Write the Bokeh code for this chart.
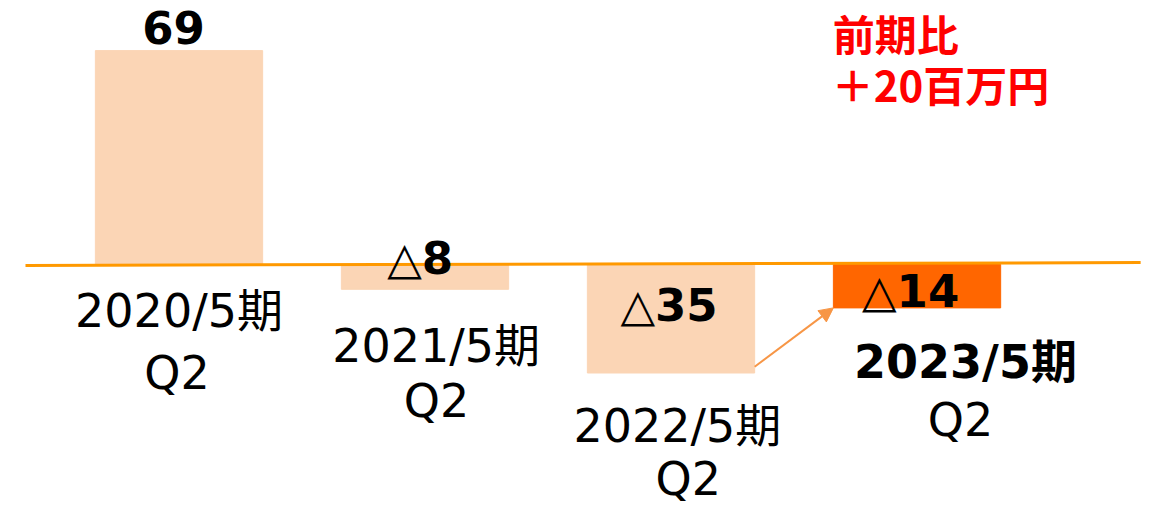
from bokeh.plotting import figure
from bokeh.models import Range1d, Arrow, NormalHead, ColumnDataSource
from bokeh.core.properties import value
from bokeh.embed import file_html
from bokeh.resources import INLINE

# ---- data ----
periods = ["2020/5期", "2021/5期", "2022/5期", "2023/5期"]
quarter = ["Q2", "Q2", "Q2", "Q2"]
values = [69, -8, -35, -14]
value_labels = ["69", "△8", "△35", "△14"]
note_lines = ["前期比", "＋20百万円"]

# ---- layout ----
W, H = 1149, 509
xs = list(range(len(values)))
bar_w = 0.68
bar_colors = ["#FBD5B5", "#FBD5B5", "#FBD5B5", "#FF6600"]
FONT = "'DejaVu Sans', 'Noto Sans CJK JP', sans-serif"
CJK = "'Noto Sans CJK JP', sans-serif"

p = figure(width=W, height=H, output_backend="svg", toolbar_location=None,
           x_range=Range1d(-0.7256, 3.945), y_range=Range1d(-79.03, 85.16),
           min_border=0, outline_line_color=None)
p.axis.visible = False
p.grid.visible = False
p.background_fill_color = "white"

src = ColumnDataSource(dict(x=xs, top=values, color=bar_colors))
p.vbar(x="x", top="top", bottom=0, width=bar_w, color="color", source=src)

# zero line (slightly tilted as in the original)
p.segment(x0=[-0.624], y0=[-0.31], x1=[3.909], y1=[0.62], line_color="#FF9900", line_width=3)

# arrow from 2022 bar to 2023 bar
p.add_layout(Arrow(end=NormalHead(size=14, fill_color="#F79646", line_color="#F79646"),
                   x_start=xs[2] + bar_w / 2, y_start=values[2] + 2,
                   x_end=xs[3] - bar_w / 2, y_end=values[3],
                   line_color="#F79646", line_width=2))

# value labels
val_pos = [(-0.022, 76.45), (0.98, 1.94), (1.992, -13.23), (2.974, -8.87)]
for lab, (vx, vy) in zip(value_labels, val_pos):
    p.text(x=[vx], y=[vy], text=[lab], text_font=value(FONT), text_font_size="45px",
           text_font_style="bold", text_align="center", text_baseline="middle",
           text_color="black")

# category labels: (x_period, y_period, x_q, y_q)
per_pos = [(0.0, -14.84, -0.008, -34.84), (1.045, -26.13, 1.047, -43.87),
           (2.026, -51.94, 2.07, -69.2), (3.197, -31.61, 3.177, -50.32)]
for i, (cx, y1, qx, y2) in enumerate(per_pos):
    bold = "bold" if i == 3 else "normal"
    p.text(x=[cx], y=[y1], text=[periods[i]], text_font=value(FONT), text_font_size="46px",
           text_font_style=bold, text_align="center", text_baseline="middle", text_color="black")
    p.text(x=[qx], y=[y2], text=[quarter[i]], text_font=value(FONT),
           text_font_size="46px", text_align="center", text_baseline="middle", text_color="black")

# note
p.text(x=[2.657], y=[74.84], text=[note_lines[0]], text_font=value(CJK), text_font_size="42px",
       text_font_style="bold", text_align="left", text_baseline="middle", text_color="#FF0000")
p.text(x=[2.653], y=[58.39], text=[note_lines[1]], text_font=value(CJK), text_font_size="42px",
       text_font_style="bold", text_align="left", text_baseline="middle", text_color="#FF0000")

open("out.html", "w").write(file_html(p, INLINE))
